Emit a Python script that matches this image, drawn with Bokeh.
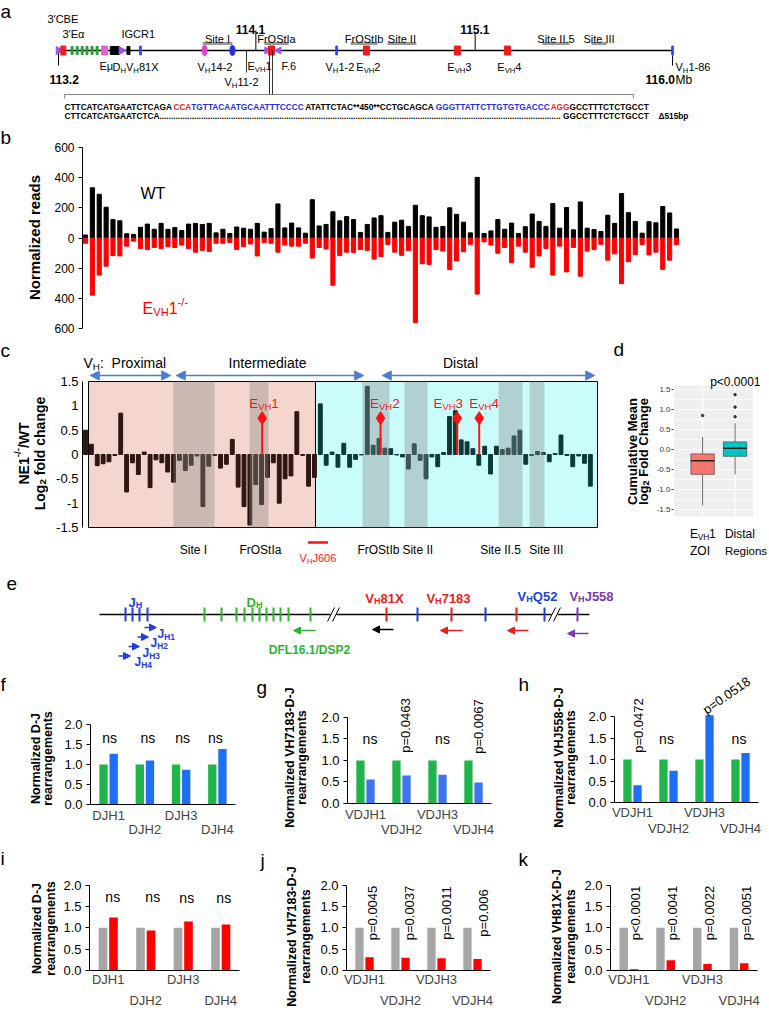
import math
from bokeh.plotting import figure
from bokeh.models import (Range1d, LinearAxis, FixedTicker, Label, Arrow,
                          NormalHead, CustomJSTickFormatter)
from bokeh.layouts import column, row
from bokeh.embed import file_html
from bokeh.resources import INLINE

FONT = "Liberation Sans"
RED = "#ee1c1c"
BLUE = "#2040e0"
GREEN = "#2db52d"
PURPLE = "#7b3aa8"

# ======================= DATA =======================
# (a) locus landmarks in Mb
mb_ticks = [113.2, 114.1, 115.1, 116.0]
mb_tick_labels = ["113.2", "114.1", "115.1", "116.0"]
a_tri_mb = [113.20, 113.487]
a_eal_mb = [113.222]
a_ch_mb = [113.262, 113.285, 113.308, 113.330, 113.353, 113.376]
a_emu_mb = [113.410]
a_dh_mb = [113.443, 113.457, 113.470, 113.519]
a_vh_tick_mb = [113.574, 114.468, 116.0]
a_vh_oval_mb = [113.866, 113.993]
a_vh_oval_col = ["#e040d0", "#2030ee"]
a_evh_mb = [114.171, 114.604, 115.019, 115.247]
a_f6_mb = [114.150, 114.205]
a_site_names = ["Site I", "FrOStIa", "FrOStIb", "Site II", "Site II.5", "Site III"]
a_site_start = [113.857, 114.139, 114.532, 114.700, 115.407, 115.630]
a_site_end = [113.993, 114.249, 114.655, 114.832, 115.530, 115.700]
seq_top = [("CTTCATCATGAATCTCAGA", "k"), ("CCA", "r"), ("TGTTACAATGCAATTTCCCC", "b"),
           ("ATATTCTAC**450**CCTGCAGCA", "k"), ("GGGTTATTCTTGTGTGACCC", "b"),
           ("AGG", "r"), ("GCCTTTCTCTGCCT", "k")]
seq_bot_left = "CTTCATCATGAATCTCA"
seq_bot_right = "GGCCTTTCTCTGCCT"
seq_del = "\u0394515bp"

# (b) normalized reads per VH gene
wt_reads = [20, 333, 290, 204, 122, 114, 28, 24, 71, 92, 58, 97, 58, 69, 49, 92, 97, 90, 97, 34,
            58, 30, 73, 65, 58, 97, 39, 62, 226, 67, 99, 67, 32, 254, 80, 90, 174, 114, 142, 122,
            37, 90, 133, 148, 37, 105, 118, 77, 217, 148, 140, 71, 77, 200, 157, 105, 34, 402, 30, 47,
            122, 58, 99, 30, 75, 159, 110, 77, 228, 65, 202, 54, 239, 65, 56, 43, 151, 97, 295, 168,
            110, 32, 108, 101, 209, 166, 60]
ko_reads = [35, 379, 246, 187, 117, 119, 54, 21, 70, 77, 63, 70, 58, 63, 47, 70, 94, 82, 89, 35,
            35, 30, 77, 58, 40, 119, 30, 35, 94, 47, 54, 54, 35, 133, 63, 73, 313, 117, 94, 96,
            77, 82, 140, 124, 44, 94, 115, 82, 561, 171, 175, 77, 87, 210, 152, 91, 42, 372, 26, 47,
            101, 63, 164, 54, 94, 194, 119, 70, 246, 54, 225, 63, 253, 87, 77, 42, 147, 105, 302, 157,
            110, 44, 112, 94, 208, 147, 44]

# (c) log2 fold change per VH gene
lfc = [0.50, 0.21, -0.23, -0.19, -0.15, -0.02, 0.85, -0.77, -0.17, -0.41, 0.05, -0.68, -0.11, -0.17,
       -0.36, -0.57, -0.12, -0.33, -0.22, -0.03, -1.07, -0.24, -0.02, -0.28, -0.20, 0.31, -0.67, -1.07,
       -1.45, -0.62, -1.03, -0.47, -0.17, -1.00, -0.50, -0.44, 0.88, -0.02, -0.65, -0.47,
       1.04, -0.22, 0.05, -0.26, 0.23, -0.26, -0.10, -0.01, 1.40, 0.19, 0.33, 0.13, 0.12, -0.01,
       -0.05, -0.30, 0.22, -0.12, -0.50, -0.05, -0.25, 0.04, 0.78, 0.90, 0.30, 0.26, 0.12, -0.22,
       0.17, -0.40, 0.17, 0.10, 0.13, 0.38, 0.50, -0.20, -0.02, 0.06, 0.04, -0.15, 0.02, 0.40,
       -0.02, -0.25, -0.03, -0.18, -0.65]
c_split = 40.18
c_box = (1.51, 88.22)
c_bands = [(15.99, 22.98), (28.94, 32.18), (48.19, 52.79), (55.34, 59.26), (71.36, 75.44), (76.64, 79.19)]
c_band_names = ["Site I", "FrOStIa", "FrOStIb", "Site II", "Site II.5", "Site III"]
c_band_label_x = [19.4, 30.8, 50.9, 57.6, 71.7, 79.5]
c_regions = ["Proximal", "Intermediate", "Distal"]
c_region_span = [(1.51, 15.82), (16.16, 48.70), (51.25, 88.05)]
evh_x = [31.10, 51.26, 64.32, 68.07]
evh_y = [0.746, 0.746, 0.746, 0.746]
evh_names = ["1", "2", "3", "4"]
evh_label_x = [31.4, 52.0, 62.8, 68.9]
vhj606 = (38.9, 42.3)

# (d) box plot statistics
d_x = [1, 2]
d_lo = [-1.40, -0.62]
d_q1 = [-0.62, -0.17]
d_med = [-0.28, 0.03]
d_q3 = [-0.11, 0.19]
d_hi = [0.31, 0.66]
d_out_x = [1, 2, 2, 2]
d_out_y = [0.85, 0.82, 1.06, 1.37]
d_colors = ["#f8766d", "#00c5c8"]
d_panel = (0.104, 2.552, -1.675, 1.6)

# (e) schematic locus positions (schematic units)
e_jh = [125, 132, 139, 147]
e_dh = [204, 221, 236, 244, 252, 259, 266, 273, 280, 288, 310]
e_vh = [386, 417, 451, 485, 516, 544, 577]
e_vh_col = [RED, BLUE, RED, BLUE, RED, BLUE, PURPLE]
e_breaks = [333, 554]
e_line = (99, 589)

# (f)-(k) normalized rearrangements
dj_cats = ["DJH1", "DJH2", "DJH3", "DJH4"]
vdj_cats = ["VDJH1", "VDJH2", "VDJH3", "VDJH4"]
f_wt = [1.0, 1.0, 1.0, 1.0]
f_ko = [1.27, 1.10, 0.87, 1.39]
g_wt = [1.0, 1.0, 1.0, 1.0]
g_ko = [0.56, 0.65, 0.67, 0.49]
h_wt = [1.0, 1.0, 1.0, 1.0]
h_ko = [0.40, 0.74, 2.03, 1.15]
i_wt = [1.0, 1.0, 1.0, 1.0]
i_ko = [1.24, 0.94, 1.15, 1.08]
j_wt = [1.0, 1.0, 1.0, 1.0]
j_ko = [0.31, 0.30, 0.29, 0.27]
k_wt = [1.0, 1.0, 1.0, 1.0]
k_ko = [0.03, 0.24, 0.15, 0.17]
f_notes = ["ns", "ns", "ns", "ns"]
g_notes = ["ns", "p=0.0463", "ns", "p=0.0067"]
h_notes = ["p=0.0472", "ns", "p=0.0518", "ns"]
i_notes = ["ns", "ns", "ns", "ns"]
j_notes = ["p=0.0045", "p=0.0037", "p=0.0011", "p=0.006"]
k_notes = ["p<0.0001", "p=0.0041", "p=0.0022", "p=0.0051"]


# ======================= HELPERS =======================
def _mk(pairs):
    d = {}
    for chars, w in pairs:
        for ch in chars:
            d[ch] = w
    return d


W_REG = _mk([("0123456789?", 556), (" .,:;!/", 278), ("-()", 333), ("*", 389), ("'\u2032", 191),
             ("=<>+", 584), ("ABEKPSVXY", 667), ("CDHNRU", 722), ("FTZ", 611), ("GOQ", 778),
             ("I", 278), ("J", 500), ("L", 556), ("M", 833), ("W", 944),
             ("abdeghnopqu", 556), ("ckvxyz", 500), ("ft", 278), ("ijl", 222), ("r", 333),
             ("s", 500), ("m", 833), ("w", 722), ("\u03b1", 578), ("\u03bc", 576), ("\u0394", 668)])
W_BOLD = _mk([("0123456789", 556), (" .,/", 278), (":;!-()", 333), ("*", 389), ("'", 238),
              ("=<>+", 584), ("?", 611), ("ABCDHKNRU", 722), ("EPSVXY", 667), ("FLTZ", 611),
              ("GOQ", 778), ("I", 278), ("J", 556), ("M", 833), ("W", 944),
              ("bdghnopqu", 611), ("acekxsvy", 556), ("f", 333), ("t", 333), ("ijl", 278),
              ("r", 389), ("m", 889), ("w", 778), ("z", 500), ("\u0394", 668)])


def text_w(s, size, bold=False):
    t = W_BOLD if bold else W_REG
    return sum(t.get(ch, 556) for ch in s) * size / 1000.0


class Panel:
    def __init__(self, px0, py0, w, h, ml, mr, mt, mb, xr, yr):
        self.fl = px0 + ml
        self.ft = py0 + mt
        self.fw = w - ml - mr
        self.fh = h - mt - mb
        self.xr = xr
        self.yr = yr
        p = figure(width=w, height=h, x_range=Range1d(*xr), y_range=Range1d(*yr),
                   output_backend="svg", toolbar_location=None,
                   x_axis_location=None, y_axis_location=None,
                   min_border=0, min_border_left=ml, min_border_right=mr,
                   min_border_top=mt, min_border_bottom=mb)
        p.outline_line_color = None
        p.grid.visible = False
        try:
            p.frame_align = False
        except Exception:
            pass
        self.p = p

    def X(self, px):
        return self.xr[0] + (px - self.fl) / self.fw * (self.xr[1] - self.xr[0])

    def Y(self, py):
        return self.yr[1] + (py - self.ft) / self.fh * (self.yr[0] - self.yr[1])

    def PX(self, x):
        return self.fl + (x - self.xr[0]) / (self.xr[1] - self.xr[0]) * self.fw

    def lab(self, px, py, text, size=12, color="black", bold=False, align="left",
            baseline="middle", angle=0.0):
        self.p.add_layout(Label(x=self.X(px), y=self.Y(py), text=text, text_font=FONT,
                                text_font_size="%.1fpx" % size, text_color=color,
                                text_font_style="bold" if bold else "normal",
                                text_align=align, text_baseline=baseline, angle=angle))

    def rich(self, px, cy, parts, size=12, color="black", bold=False, align="left", rot=False):
        items = []
        for prt in parts:
            t, k = prt[0], prt[1]
            c = prt[2] if len(prt) > 2 else color
            s = size * 0.7 if k in ("b", "p") else size
            items.append((t, k, c, s, text_w(t, s, bold)))
        total = sum(it[4] for it in items)
        off = {"left": 0.0, "center": -total / 2.0, "right": -total}[align]
        base = 0.36 * size
        for t, k, c, s, w in items:
            lead = len(t) - len(t.lstrip(" "))
            core = t.strip(" ")
            if core:
                o2 = off + text_w(" " * lead, s, bold)
                sh = base + (0.25 * size if k == "b" else (-0.42 * size if k == "p" else 0.0))
                if rot:
                    self.lab(px + sh, cy - o2, core, s, c, bold, "left", "alphabetic", math.pi / 2)
                else:
                    self.lab(px + o2, cy + sh, core, s, c, bold, "left", "alphabetic", 0.0)
            off += w
        return total


def strip(px0, py0, w, h):
    return Panel(px0, py0, w, h, 0, 0, 0, 0, (px0, px0 + w), (py0 + h, py0))


def add_yaxis(P, ticks, code, bounds, size, tick_out, line_color="black", label_color="black",
              standoff=4):
    ax = LinearAxis(ticker=FixedTicker(ticks=ticks), formatter=CustomJSTickFormatter(code=code),
                    bounds=bounds)
    ax.major_label_text_font = FONT
    ax.major_label_text_font_size = "%.1fpx" % size
    ax.major_label_text_color = label_color
    ax.major_tick_out = tick_out
    ax.major_tick_in = 0
    ax.minor_tick_out = 0
    ax.minor_tick_in = 0
    ax.major_label_standoff = standoff
    ax.axis_line_color = line_color
    ax.major_tick_line_color = line_color if line_color else "#333333"
    P.p.add_layout(ax, "left")
    return ax


def sub_label(prefix, sub, suffix):
    return [(prefix, "n"), (sub, "b"), (suffix, "n")]


# ======================= (a) LOCUS MAP =======================
PX_PER_MB = 219.3


def px2mb(px):
    return mb_ticks[0] + (px - 58) / PX_PER_MB


def mb2px(m):
    return 58 + (m - mb_ticks[0]) * PX_PER_MB


fa = Panel(0, 0, 768, 122, 0, 0, 0, 0, (px2mb(0), px2mb(768)), (122, 0))
pa = fa.p
LY = 50
pa.segment(x0=[min(mb_ticks)], y0=[LY], x1=[max(mb_ticks)], y1=[LY], line_color="black", line_width=1.3)
tick_end = [LY + 15, LY - 20, LY - 18, LY + 15]
pa.segment(x0=mb_ticks, y0=[LY] * 4, x1=mb_ticks, y1=tick_end, line_color="black", line_width=1)
pa.segment(x0=a_site_start, y0=[43] * 6, x1=a_site_end, y1=[43] * 6, line_color="#9a9a9a", line_width=3)
for nm, s, e in zip(a_site_names, a_site_start, a_site_end):
    fa.rich(mb2px((s + e) / 2), 35, [(nm, "n")], 11, align="center")
pa.rect(x=a_ch_mb, y=LY, width=2, height=8, width_units="screen", height_units="screen", color="#2a9d3a")
pa.rect(x=a_emu_mb, y=LY, width=6, height=9, width_units="screen", height_units="screen", color="#e860d0")
pa.rect(x=a_dh_mb, y=LY, width=3, height=8, width_units="screen", height_units="screen", color="black")
pa.rect(x=a_vh_tick_mb, y=LY, width=1.6, height=9, width_units="screen", height_units="screen", color="#3344ff")
pa.ellipse(x=a_vh_oval_mb, y=LY, width=5, height=10, width_units="screen", height_units="screen",
           color=a_vh_oval_col)
pa.scatter(x=a_tri_mb, y=LY, marker="triangle", size=8, angle=-math.pi / 2, color="#9955ee")
pa.scatter(x=a_f6_mb, y=[LY, LY], marker="triangle", size=7, angle=[-math.pi / 2, math.pi / 2], color="#9955ee")
pa.rect(x=a_eal_mb, y=LY, width=5, height=9, width_units="screen", height_units="screen", color=RED)
pa.rect(x=a_evh_mb, y=LY, width=6, height=9, width_units="screen", height_units="screen", color=RED)
pa.segment(x0=[px2mb(246)], y0=[LY], x1=[px2mb(246)], y1=[72], line_color="black", line_width=0.8)
pa.segment(x0=[px2mb(269), px2mb(272)], y0=[LY, LY], x1=[px2mb(269), px2mb(272)], y1=[94, 94],
           line_color="black", line_width=0.8)
pa.segment(x0=[px2mb(64), px2mb(64), px2mb(633)], y0=[94, 94, 94], x1=[px2mb(633), px2mb(64), px2mb(633)],
           y1=[94, 98, 98], line_color="#666666", line_width=0.8)
fa.rich(47, 15, [("3\u2032CBE", "n")], 11)
fa.rich(62, 30, [("3\u2032E\u03b1", "n")], 11)
fa.rich(121, 30, [("IGCR1", "n")], 11)
fa.rich(99, 62, [("E\u03bc", "n")], 11)
fa.rich(112, 63, [("D", "n"), ("H", "b"), ("V", "n"), ("H", "b"), ("81X", "n")], 11)
fa.rich(197, 63, sub_label("V", "H", "14-2"), 11)
fa.rich(224, 78, sub_label("V", "H", "11-2"), 11)
fa.rich(247, 62, sub_label("E", "VH", "1"), 11)
fa.rich(281, 62, [("F.6", "n")], 11)
fa.rich(325, 63, sub_label("V", "H", "1-2"), 11)
for nm, m in zip(evh_names[1:], a_evh_mb[1:]):
    fa.rich(mb2px(m) + 2, 63, sub_label("E", "VH", nm), 11, align="center")
fa.rich(675, 63, sub_label("V", "H", "1-86"), 11)
fa.rich(mb2px(mb_ticks[0]) + 6, 75, [(mb_tick_labels[0], "n")], 12, bold=True, align="center")
fa.rich(mb2px(mb_ticks[1]) - 5, 25, [(mb_tick_labels[1], "n")], 12, bold=True, align="center")
fa.rich(mb2px(mb_ticks[2]), 25, [(mb_tick_labels[2], "n")], 12, bold=True, align="center")
wmb = fa.rich(mb2px(mb_ticks[3]) - 27, 75, [(mb_tick_labels[3], "n")], 12, bold=True)
fa.rich(mb2px(mb_ticks[3]) - 27 + wmb, 75, [("Mb", "n")], 12)
seq_col = {"k": "black", "r": RED, "b": "#1f2fe0"}
full_top = "".join(s for s, _ in seq_top)
seq_size = 584.0 / (text_w(full_top, 1000, True) / 1000.0)
fa.rich(64, 104, [(s, "n", seq_col[c]) for s, c in seq_top], seq_size, bold=True)
end_top = 64 + text_w(full_top, seq_size, True)
wl = text_w(seq_bot_left, seq_size, True)
wr = text_w(seq_bot_right, seq_size, True)
ndots = int((end_top - wr - (64 + wl)) / text_w(".", seq_size, True))
fa.rich(64, 113, [(seq_bot_left + "." * ndots, "n")], seq_size, bold=True)
fa.rich(end_top, 113, [(seq_bot_right, "n")], seq_size, bold=True, align="right")
fa.rich(end_top + 10, 113, [(seq_del, "n")], seq_size, bold=True)
fa.lab(0, 11, "a", 19)

# ======================= (b) READS =======================
sb = strip(0, 122, 48, 215)
sb.lab(0, 137, "b", 19)
sb.rich(29, 237, [("Normalized reads", "n")], 15, bold=True, align="center", rot=True)
fb = Panel(48, 122, 720, 215, 34, 88, 25, 9, (0.563, 87.58), (-600, 600))
pb = fb.p
gene_idx = list(range(1, len(wt_reads) + 1))
pb.vbar(x=gene_idx, top=wt_reads, bottom=0, width=0.6, color="black")
pb.vbar(x=gene_idx, top=0, bottom=[-v for v in ko_reads], width=0.6, color="#ff0000")
add_yaxis(fb, [-600, -400, -200, 0, 200, 400, 600], "return Math.abs(tick).toString();",
          (-600, 600), 12, 4)
fb.rich(140, 187, [("WT", "n")], 16)
fb.rich(142, 302, [("E", "n"), ("VH", "b"), ("1", "n"), ("-/-", "p")], 16, color="#ff0000")

# ======================= (c) LOG2 FC =======================
sc = strip(0, 337, 48, 228)
sc.lab(0, 350, "c", 19)
sc.rich(18, 453, [("NE1", "n"), ("-/-", "p"), ("/WT", "n")], 14, bold=True, align="center", rot=True)
sc.rich(34, 453, [("Log", "n"), ("2", "b"), (" fold change", "n")], 14, bold=True, align="center", rot=True)
fc = Panel(48, 337, 559, 228, 34, 7, 0, 0, (0.489, 88.73), (-2.281, 2.404))
pc = fc.p
pc.quad(left=[c_box[0], c_split], right=[c_split, c_box[1]], bottom=[-1.5, -1.5], top=[1.5, 1.5],
        fill_color=["#f4d6ce", "#cbfcfc"], line_color="black", line_width=1)
c_idx = list(range(1, len(lfc) + 1))
c_cols = ["#2e1712" if i < c_split else "#0d3838" for i in c_idx]
pc.vbar(x=c_idx, top=lfc, bottom=0, width=0.66, color=c_cols)
pc.quad(left=[b[0] for b in c_bands], right=[b[1] for b in c_bands], bottom=-1.5, top=1.5,
        fill_color="#8a8a8a", fill_alpha=0.38, line_color=None)
pc.segment(x0=evh_x, y0=0, x1=evh_x, y1=evh_y, line_color="#ff1111", line_width=2)
pc.scatter(x=evh_x, y=evh_y, marker="diamond", size=13, color="#ff1111")
pc.segment(x0=[vhj606[0]], y0=[fc.Y(542)], x1=[vhj606[1]], y1=[fc.Y(542)], line_color="#ff1111", line_width=2.5)
ay = fc.Y(375)
for (s, e) in c_region_span:
    pc.add_layout(Arrow(x_start=s + 0.3, y_start=ay, x_end=e - 0.3, y_end=ay, line_color="#4a7fd0",
                        line_width=1.5,
                        start=NormalHead(size=9, fill_color="#4a7fd0", line_color="#4a7fd0"),
                        end=NormalHead(size=9, fill_color="#4a7fd0", line_color="#4a7fd0")))
add_yaxis(fc, [-1.5, -1, -0.5, 0, 0.5, 1, 1.5], "return tick.toString();", (-1.5, 1.5), 13, 0)
fc.rich(83, 357, [("V", "n"), ("H", "b"), (":", "n"), ("  " + c_regions[0], "n")], 14)
fc.rich(267, 357, [(c_regions[1], "n")], 14, align="center")
fc.rich(460, 357, [(c_regions[2], "n")], 14, align="center")
for x, nm in zip(evh_label_x, evh_names):
    fc.rich(fc.PX(x), 398, sub_label("E", "VH", nm), 13.5, color="#ff1111", align="center")
for nm, x in zip(c_band_names, c_band_label_x):
    fc.rich(fc.PX(x), 545, [(nm, "n")], 12, align="center")
fc.rich(fc.PX(sum(vhj606) / 2), 554, sub_label("V", "H", "J606"), 11, color="#ff1111", align="center")

# ======================= (d) BOX PLOT =======================
sd = strip(607, 337, 46, 228)
sd.lab(613, 349, "d", 19)
sd.rich(627, 451, [("Cumulative Mean", "n")], 13, bold=True, align="center", rot=True)
sd.rich(638, 451, [("log", "n"), ("2", "b"), (" Fold Change", "n")], 13, bold=True, align="center", rot=True)
fd = Panel(653, 337, 115, 228, 17, 0, 0, 0, (0.104, 0.104 + 98 / 33.5), (-2.9, 2.8))
pdd = fd.p
x0p, x1p, y0p, y1p = d_panel
pdd.quad(left=[x0p], right=[x1p], bottom=[y0p], top=[y1p], fill_color="#efefef", line_color=None)
major = [-1.5, -1, -0.5, 0, 0.5, 1, 1.5]
minor = [-1.25, -0.75, -0.25, 0.25, 0.75, 1.25]
pdd.segment(x0=x0p, y0=minor, x1=x1p, y1=minor, line_color="white", line_width=0.6)
pdd.segment(x0=x0p, y0=major, x1=x1p, y1=major, line_color="white", line_width=1.2)
pdd.segment(x0=d_x, y0=y0p, x1=d_x, y1=y1p, line_color="white", line_width=1.2)
pdd.segment(x0=d_x, y0=d_lo, x1=d_x, y1=d_q1, line_color="#444444", line_width=0.8)
pdd.segment(x0=d_x, y0=d_q3, x1=d_x, y1=d_hi, line_color="#444444", line_width=0.8)
pdd.quad(left=[x - 0.36 for x in d_x], right=[x + 0.36 for x in d_x], bottom=d_q1, top=d_q3,
         fill_color=d_colors, line_color="#555555", line_width=0.8)
pdd.segment(x0=[x - 0.36 for x in d_x], y0=d_med, x1=[x + 0.36 for x in d_x], y1=d_med,
            line_color="#222222", line_width=1.6)
pdd.scatter(x=d_out_x, y=d_out_y, size=2.5, color="#333333")
add_yaxis(fd, major, "return tick.toFixed(1);", (-1.5, 1.5), 8, 2,
          line_color=None, label_color="#333333", standoff=1)
fd.rich(733, 377, [("p<0.0001", "n")], 12, align="center")
fd.rich(687, 529, sub_label("E", "VH", "1"), 12)
fd.rich(687, 546, [("ZOI", "n")], 12)
fd.rich(723, 529, [("Distal", "n")], 12)
fd.rich(723, 546, [("Regions", "n")], 11.5)

# ======================= (e) SCHEMATIC =======================
fe = Panel(0, 565, 768, 106, 0, 0, 0, 0, (0, 768), (671, 565))
pe = fe.p
EY = 614
segs_x0 = [e_line[0], e_breaks[0] + 3, e_breaks[1] + 3]
segs_x1 = [e_breaks[0] - 3, e_breaks[1] - 3, e_line[1]]
pe.segment(x0=segs_x0, y0=EY, x1=segs_x1, y1=EY, line_color="black", line_width=1.6)
for b in e_breaks:
    pe.segment(x0=[b - 6, b - 1], y0=[EY + 7, EY + 7], x1=[b + 1, b + 6], y1=[EY - 7, EY - 7],
               line_color="black", line_width=1)
pe.segment(x0=e_jh, y0=EY - 7, x1=e_jh, y1=EY + 7, line_color=BLUE, line_width=2)
pe.segment(x0=e_dh, y0=EY - 7, x1=e_dh, y1=EY + 7, line_color=GREEN, line_width=2)
pe.segment(x0=e_vh, y0=EY - 7, x1=e_vh, y1=EY + 7, line_color=e_vh_col, line_width=2)
fe.rich(135, 597, sub_label("J", "H", ""), 13, color=BLUE, bold=True, align="center")
fe.rich(254, 597, sub_label("D", "H", ""), 13, color=GREEN, bold=True, align="center")
fe.rich(384, 593, sub_label("V", "H", "81X"), 13, color=RED, bold=True, align="center")
fe.rich(448, 593, sub_label("V", "H", "7183"), 13, color=RED, bold=True, align="center")
fe.rich(537, 591, sub_label("V", "H", "Q52"), 13, color=BLUE, bold=True, align="center")
fe.rich(591, 591, sub_label("V", "H", "J558"), 13, color=PURPLE, bold=True, align="center")
primers = [(315, 293, 630, GREEN), (393, 372, 629, "black"), (462, 440, 630, RED),
           (528, 507, 630, RED), (588, 567, 633, PURPLE),
           (144, 156, 627, BLUE), (137, 148, 636.5, BLUE), (128, 139, 646, BLUE), (118, 130, 655.5, BLUE)]
for x0, x1, y, col in primers:
    pe.add_layout(Arrow(x_start=x0, y_start=y, x_end=x1, y_end=y, line_color=col, line_width=1.6,
                        end=NormalHead(size=7, fill_color=col, line_color=col)))
fe.rich(309, 645, [("DFL16.1/DSP2", "n")], 12, color=GREEN, bold=True, align="center")
for k, (x, y) in enumerate([(157, 629), (150, 638.5), (142, 648), (134, 657.5)]):
    fe.rich(x, y, sub_label("J", "H%d" % (k + 1), ""), 12, color=BLUE, bold=True)
fe.lab(6, 583, "e", 19)


# ======================= (f)-(k) BAR PANELS =======================
def cat_axis(P, ticks, names, standoff, line):
    code = "const m = %s; return m[tick] || '';" % ("{" + ",".join("%d:'%s'" % (t, n) for t, n in zip(ticks, names)) + "}")
    ax = LinearAxis(ticker=FixedTicker(ticks=ticks), formatter=CustomJSTickFormatter(code=code))
    ax.major_label_text_font = FONT
    ax.major_label_text_font_size = "13px"
    ax.major_tick_out = 0
    ax.major_tick_in = 0
    ax.minor_tick_out = 0
    ax.minor_tick_in = 0
    ax.major_label_standoff = standoff
    ax.axis_line_color = "black" if line else None
    P.p.add_layout(ax, "below")


def bar_panel(strip_geom, geom, ytop, wt, ko, cw, ck, cats, stand, notes, note_pos, letter, letter_pos,
              t1, tx, tcy):
    S = strip(*strip_geom)
    S.lab(letter_pos[0], letter_pos[1], letter, 19)
    S.rich(tx[0], tcy, t1, 12.5, bold=True, align="center", rot=True)
    S.rich(tx[1], tcy, [("rearrangements", "n")], 12.5, bold=True, align="center", rot=True)
    P = Panel(*geom, (0.5, 4.5), (0, ytop))
    g = [1, 2, 3, 4]
    P.p.vbar(x=[v - 0.14 for v in g], top=wt, width=0.23, fill_color=cw, line_color=None)
    P.p.vbar(x=[v + 0.14 for v in g], top=ko, width=0.23, fill_color=ck, line_color=None)
    add_yaxis(P, [0, 0.5, 1, 1.5, 2], "return tick.toFixed(1);", (0, 2), 13, 4)
    cat_axis(P, [1, 3], [cats[0], cats[2]], stand[0], True)
    cat_axis(P, [2, 4], [cats[1], cats[3]], stand[1], False)
    for i, (txt, (dx, cy, ang)) in enumerate(zip(notes, note_pos)):
        P.lab(P.PX(g[i]) + dx, cy, txt, 14 if txt == "ns" else 13, align="center", baseline="middle",
              angle=math.radians(ang))
    return S, P


GRN = "#1fb54a"
BLU = "#1f6ff5"
GRY = "#a6a6a6"
RD = "#ff0000"
Sf, Pf = bar_panel((0, 671, 58, 174), (58, 671, 197, 174, 32, 20, 19, 41), 2.85, f_wt, f_ko, GRN, BLU,
                   dj_cats, (3, -4), f_notes,
                   [(1, 737, 0), (3, 737, 0), (1.5, 737, 0), (-2, 737, 0)], "f", (0, 684),
                   [("Normalized D-J", "n")], (31, 43), 758)
Sg, Pg = bar_panel((255, 671, 55, 174), (310, 671, 200, 174, 37, 19, 14, 42), 2.744, g_wt, g_ko, GRN,
                   "#3f74f0", vdj_cats, (3, -3), g_notes,
                   [(4.5, 738, 0), (4, 725, 90), (5, 738, 0), (5, 726, 90)], "g", (256, 687),
                   [("Normalized VH7183-D-J", "n")], (285, 297), 757)
Sh, Ph = bar_panel((510, 671, 68, 174), (578, 671, 190, 174, 36, 10, 0, 43), 131 / 43, h_wt, h_ko, GRN, BLU,
                   vdj_cats, (2, -2), h_notes,
                   [(6, 725, 90), (-2, 738, 0), (22, 695, 35), (-1.5, 738, 0)], "h", (518, 684),
                   [("Normalized VHJ558-D-J", "n")], (554, 566), 757)
Si, Pi = bar_panel((0, 845, 58, 165), (58, 845, 197, 165, 31, 16, 7, 39), 2.767, i_wt, i_ko, GRY, RD,
                   dj_cats, (1, 3), i_notes,
                   [(4.5, 897, 0), (7, 897, 0), (3.5, 898, 0), (3, 898, 0)], "i", (0, 858),
                   [("Normalized D-J", "n")], (32, 46), 928)
Sj, Pj = bar_panel((255, 845, 59, 165), (314, 845, 196, 165, 32, 20, 7, 39), 2.767, j_wt, j_ko, GRY, RD,
                   vdj_cats, (1, 3), j_notes,
                   [(7.5, 913, 90), (8.5, 913, 90), (9.5, 913, 90), (10.5, 913, 90)], "j", (260, 860),
                   [("Normalized VH7183-D-J", "n")], (287, 301), 936)
Sk, Pk = bar_panel((510, 845, 69, 165), (579, 845, 189, 165, 31, 11, 7, 39), 2.767, k_wt, k_ko, GRY, RD,
                   vdj_cats, (1, 3), k_notes,
                   [(7, 913, 90), (7, 913, 90), (7, 913, 90), (7, 913, 90)], "k", (518, 859),
                   [("Normalized VH81X-D-J", "n")], (552, 566), 936)

layout = column(fa.p,
                row(sb.p, fb.p),
                row(sc.p, fc.p, sd.p, fd.p),
                fe.p,
                row(Sf.p, Pf.p, Sg.p, Pg.p, Sh.p, Ph.p),
                row(Si.p, Pi.p, Sj.p, Pj.p, Sk.p, Pk.p))
open("out.html", "w").write(file_html(layout, INLINE))
